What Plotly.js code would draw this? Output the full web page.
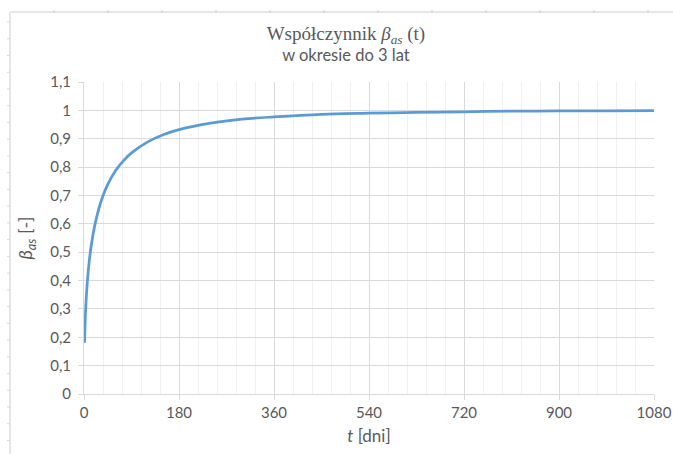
<!DOCTYPE html>
<html>
<head>
<meta charset="utf-8">
<script src="https://cdn.plot.ly/plotly-3.0.1.min.js"></script>
<style>html,body{margin:0;padding:0;background:#fff;}#chart{width:673px;height:454px;}</style>
</head>
<body>
<div id="chart"></div>
<script>
// Data
const tDays = [1, 2, 3, 5, 7, 10, 14, 20, 28, 36, 45, 60, 75, 90, 120, 150, 180, 240, 300, 360, 450, 540, 630, 720, 810, 900, 990, 1080];
const betaAs = [0.181, 0.246, 0.293, 0.361, 0.411, 0.469, 0.527, 0.591, 0.653, 0.699, 0.739, 0.788, 0.823, 0.850, 0.888, 0.914, 0.932, 0.955, 0.969, 0.977, 0.986, 0.990, 0.993, 0.995, 0.997, 0.998, 0.998, 0.999];
const xTickVals = [0, 180, 360, 540, 720, 900, 1080];
const xTickText = ['0', '180', '360', '540', '720', '900', '1080'];
const yTickVals = [0, 0.1, 0.2, 0.3, 0.4, 0.5, 0.6, 0.7, 0.8, 0.9, 1, 1.1];
const yTickText = ['0', '0,1', '0,2', '0,3', '0,4', '0,5', '0,6', '0,7', '0,8', '0,9', '1', '1,1'];

const W = 673, H = 454;
const M = {l: 84, r: 19, t: 82, b: 60};
const pw = W - M.l - M.r, ph = H - M.t - M.b;
const px = x => (x - M.l) / pw;
const py = y => (H - M.b - y) / ph;

const frameColor = '#e6e6e6';
const shapes = [];
// page frame (ruler-like border)
shapes.push({type: 'line', xref: 'paper', yref: 'paper', x0: px(10), x1: px(673), y0: py(12), y1: py(12), line: {color: frameColor, width: 2}, layer: 'below'});
shapes.push({type: 'line', xref: 'paper', yref: 'paper', x0: px(10), x1: px(10), y0: py(12), y1: py(454), line: {color: frameColor, width: 2}, layer: 'below'});
for (let x = 54; x < 673; x += 54) {
  shapes.push({type: 'line', xref: 'paper', yref: 'paper', x0: px(x), x1: px(x), y0: py(10), y1: py(13), line: {color: '#d0d0d0', width: 1}});
}
for (let y = 22; y < 454; y += 16.74) {
  shapes.push({type: 'line', xref: 'paper', yref: 'paper', x0: px(7), x1: px(10), y0: py(y), y1: py(y), line: {color: '#d8d8d8', width: 1}});
}

const trace = {
  x: tDays, y: betaAs, type: 'scatter', mode: 'lines',
  line: {color: '#5b9bd5', width: 2.75, shape: 'spline', smoothing: 1.0},
  hoverinfo: 'skip'
};

const tickFont = {family: 'Lato, "Open Sans", sans-serif', size: 15, color: '#595959'};

const layout = {
  width: W, height: H,
  margin: M,
  paper_bgcolor: '#fff', plot_bgcolor: '#fff',
  showlegend: false,
  title: {
    text: '<span style="font-family:\'Liberation Serif\',serif;font-size:19px">Współczynnik <i>β</i><sub><i>as</i></sub> (t)</span><br><span style="font-family:Lato,sans-serif;font-size:16.5px">w okresie do 3 lat</span>',
    font: {family: 'Lato, sans-serif', size: 16.5, color: '#595959'},
    x: 0.514, xanchor: 'center', xref: 'container',
    y: 0.912, yanchor: 'middle', yref: 'container'
  },
  xaxis: {
    range: [0, 1080], fixedrange: true,
    tickvals: xTickVals, ticktext: xTickText,
    tickfont: tickFont,
    showgrid: true, gridcolor: '#d9d9d9', gridwidth: 1,
    minor: {dtick: 36, showgrid: true, gridcolor: '#f0f0f0', gridwidth: 1, ticks: ''},
    showline: true, linecolor: '#d9d9d9', linewidth: 1,
    ticks: 'outside', ticklen: 5, tickcolor: '#d9d9d9',
    zeroline: false,
    title: {text: '<i>t</i> [dni]', font: {family: 'Lato, sans-serif', size: 17, color: '#595959'}, standoff: 10}
  },
  yaxis: {
    range: [0, 1.1], fixedrange: true,
    tickvals: yTickVals, ticktext: yTickText,
    tickfont: tickFont,
    ticklabelstandoff: 4,
    showgrid: true, gridcolor: '#d9d9d9', gridwidth: 1,
    showline: true, linecolor: '#d9d9d9', linewidth: 1,
    ticks: 'outside', ticklen: 5, tickcolor: '#d9d9d9',
    zeroline: false,
    title: {text: '<i>β<sub>as</sub></i> [-]', font: {family: 'Lato, sans-serif', size: 18, color: '#595959'}, standoff: 12}
  },
  shapes: shapes
};

Plotly.newPlot('chart', [trace], layout, {displayModeBar: false, staticPlot: true});
</script>
</body>
</html>
